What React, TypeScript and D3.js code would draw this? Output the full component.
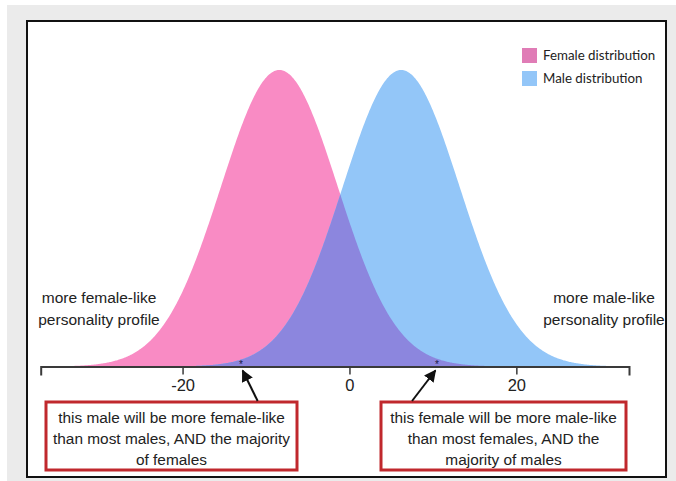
import React, { useEffect, useRef } from "react";
import * as d3 from "d3";

// ---- data ----
const seriesNames = ["Female distribution", "Male distribution"];
const seriesMeans = [-8.4, 6.2];
const seriesSD = [7.0, 7.0];
const axisDomain = [-37, 33.5];
const xTickValues = [-20, 0, 20];
const markerValues = [-13, 10.5];
const leftSideLabel = ["more female-like", "personality profile"];
const rightSideLabel = ["more male-like", "personality profile"];
const leftBoxText = ["this male will be more female-like", "than most males, AND the majority", "of females"];
const rightBoxText = ["this female will be more male-like", "than most females, AND the", "majority of males"];

const W = 676;
const H = 481;
const baseY = 366.5;
const peakY = 70;

const PINK = "#F98BC4";
const BLUE = "#93C6F8";
const PURPLE = "#8C86DE";

function pdf(x: number, m: number, s: number) {
  return Math.exp(-0.5 * ((x - m) / s) ** 2) / (s * Math.sqrt(2 * Math.PI));
}

export default function App() {
  const axisRef = useRef<SVGGElement>(null);
  const x = d3.scaleLinear().domain(axisDomain).range([40.7, 629]);
  const maxDens = pdf(seriesMeans[0], seriesMeans[0], seriesSD[0]);
  const y = d3.scaleLinear().domain([0, maxDens]).range([baseY, peakY]);

  const xs = d3.range(axisDomain[0], axisDomain[1] + 0.001, 0.1);
  const f = (v: number) => pdf(v, seriesMeans[0], seriesSD[0]);
  const m = (v: number) => pdf(v, seriesMeans[1], seriesSD[1]);

  const mk = (fn: (v: number) => number) =>
    d3.area<number>().x((d) => x(d)).y0(baseY).y1((d) => y(fn(d))).curve(d3.curveLinear)(xs) || "";

  const femalePath = mk(f);
  const malePath = mk(m);
  const overlapPath = mk((v) => Math.min(f(v), m(v)));

  useEffect(() => {
    if (!axisRef.current) return;
    const g = d3.select(axisRef.current);
    g.selectAll("*").remove();
    g.call(
      d3.axisBottom(x).tickValues(xTickValues).tickSize(8).tickSizeOuter(9).tickPadding(5).tickFormat(d3.format("d"))
    );
    g.select(".domain").attr("stroke", "#3a3a3a").attr("stroke-width", 2);
    g.selectAll(".tick line").attr("stroke", "#3a3a3a").attr("stroke-width", 1.5);
    g.selectAll(".tick text")
      .attr("fill", "#222")
      .attr("font-size", 16.5)
      .attr("font-family", "'Liberation Sans', Arial, sans-serif")
      .text((d: any) => (d < 0 ? "-" + Math.abs(d) : String(d)));
  }, []);

  const font = "'Liberation Sans', Arial, sans-serif";
  const boxes = [
    { x0: 46, x1: 297, text: leftBoxText, marker: markerValues[0], tailDx: 2.0 },
    { x0: 381, x1: 626, text: rightBoxText, marker: markerValues[1], tailDx: -3.0 },
  ];

  return (
    <svg width={W} height={H} style={{ position: "absolute", left: 0, top: 0, background: "#fff" }}>
      <defs>
        <marker id="ah" viewBox="0 0 10 10" refX="9" refY="5" markerWidth="6" markerHeight="6" orient="auto">
          <path d="M0,0 L10,5 L0,10 z" fill="#111" />
        </marker>
      </defs>
      <rect x={7} y={5} width={W - 7} height={H - 5} fill="#ebebeb" />
      <rect x={27} y={21} width={639} height={456} fill="#fff" stroke="#111" strokeWidth={2} />

      <path d={femalePath} fill={PINK} />
      <path d={malePath} fill={BLUE} />
      <path d={overlapPath} fill={PURPLE} />

      {markerValues.map((v, i) => (
        <text key={i} x={x(v)} y={baseY + 1} fontSize={10} textAnchor="middle" fill="#1a1a44" fontFamily={font}>
          *
        </text>
      ))}

      <g ref={axisRef} transform={`translate(0,${baseY})`} />

      {leftSideLabel.map((t, i) => (
        <text key={t} x={99} y={303 + i * 22} fontSize={15.5} textAnchor="middle" fill="#222" fontFamily={font}>
          {t}
        </text>
      ))}
      {rightSideLabel.map((t, i) => (
        <text key={t + i} x={604} y={303 + i * 22} fontSize={15.5} textAnchor="middle" fill="#222" fontFamily={font}>
          {t}
        </text>
      ))}

      {boxes.map((b, i) => (
        <g key={i}>
          <rect x={b.x0} y={402} width={b.x1 - b.x0} height={68} fill="#fff" stroke="#C0282D" strokeWidth={3} />
          {b.text.map((t, j) => (
            <text key={j} x={(b.x0 + b.x1) / 2} y={423 + j * 21} fontSize={15.4} textAnchor="middle" fill="#222" fontFamily={font}>
              {t}
            </text>
          ))}
          <line
            x1={x(b.marker + b.tailDx)}
            y1={401}
            x2={x(b.marker + 0.2 * Math.sign(b.tailDx))}
            y2={baseY + 4}
            stroke="#111"
            strokeWidth={2}
            markerEnd="url(#ah)"
          />
        </g>
      ))}

      {seriesNames.map((n, i) => (
        <g key={n}>
          <rect x={522} y={48 + i * 23} width={15} height={15} fill={i === 0 ? "#E07CB6" : BLUE} />
          <text x={543} y={60 + i * 23} fontSize={13.3} fill="#222" fontFamily="Lato, 'Open Sans', sans-serif">
            {n}
          </text>
        </g>
      ))}
    </svg>
  );
}
